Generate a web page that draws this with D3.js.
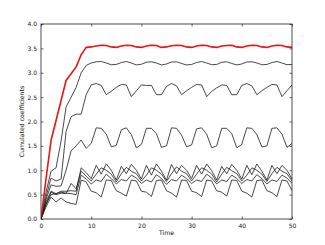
<!DOCTYPE html>
<html>
<head>
<meta charset="utf-8">
<script src="https://cdn.jsdelivr.net/npm/d3@7"></script>
<style>
  html, body { margin: 0; padding: 0; background: #fff; }
  #chart svg { display: block; }
  .axis path { display: none; }
  .axis line { stroke: #000; stroke-width: 0.6; }
  .axis text { font-family: 'DejaVu Sans', sans-serif; font-size: 6px; fill: #111; }
  .frame { fill: none; stroke: #222; stroke-width: 0.8; }
  .series { fill: none; stroke-linejoin: round; }
  .label { font-family: 'DejaVu Sans', sans-serif; font-size: 6.2px; fill: #111; }
</style>
</head>
<body>
<div id="chart"></div>
<script>
'use strict';

var time = [0, 1, 2, 3, 4, 5, 6, 7, 8, 9, 10, 11, 12, 13, 14, 15, 16, 17, 18, 19, 20,
  21, 22, 23, 24, 25, 26, 27, 28, 29, 30, 31, 32, 33, 34, 35, 36, 37, 38, 39, 40,
  41, 42, 43, 44, 45, 46, 47, 48, 49, 50];

// red total line
var total = [0, 0.82, 1.61, 2.02, 2.43, 2.84, 2.98, 3.12, 3.37, 3.52,
  3.53, 3.55, 3.565, 3.56, 3.53, 3.52, 3.55, 3.565, 3.56, 3.53,
  3.52, 3.55, 3.565, 3.56, 3.52, 3.53, 3.555, 3.565, 3.56, 3.53,
  3.52, 3.55, 3.565, 3.56, 3.53, 3.52, 3.55, 3.56, 3.565, 3.53,
  3.52, 3.55, 3.565, 3.56, 3.53, 3.52, 3.55, 3.565, 3.56, 3.53, 3.52];

var coefB = [0, 0.55, 0.98, 1.05, 1.6, 2.3, 2.5, 2.7, 3.0, 3.15,
  3.2, 3.225, 3.23, 3.2, 3.165, 3.17, 3.21, 3.23, 3.2, 3.16,
  3.175, 3.215, 3.225, 3.2, 3.16, 3.18, 3.22, 3.225, 3.19, 3.16,
  3.17, 3.21, 3.23, 3.2, 3.165, 3.17, 3.215, 3.225, 3.19, 3.16,
  3.18, 3.22, 3.225, 3.2, 3.165, 3.17, 3.21, 3.23, 3.2, 3.165, 3.17];

var coefC = [0, 0.45, 0.84, 0.78, 0.82, 1.8, 2.1, 2.15, 2.15, 2.55,
  2.75, 2.78, 2.74, 2.55, 2.62, 2.7, 2.76, 2.75, 2.51, 2.63,
  2.75, 2.74, 2.74, 2.55, 2.55, 2.72, 2.78, 2.73, 2.55, 2.63,
  2.7, 2.76, 2.75, 2.51, 2.62, 2.69, 2.75, 2.74, 2.55, 2.55,
  2.74, 2.78, 2.73, 2.55, 2.63, 2.7, 2.76, 2.75, 2.51, 2.63, 2.75];

var coefD = [0, 0.4, 0.7, 0.67, 0.68, 1.0, 1.4, 1.5, 1.62, 1.45,
  1.55, 1.87, 1.86, 1.74, 1.48, 1.51, 1.83, 1.87, 1.73, 1.46,
  1.53, 1.86, 1.86, 1.75, 1.47, 1.5, 1.87, 1.86, 1.72, 1.48,
  1.52, 1.85, 1.87, 1.74, 1.46, 1.5, 1.86, 1.86, 1.75, 1.46,
  1.53, 1.87, 1.86, 1.73, 1.48, 1.5, 1.86, 1.87, 1.74, 1.47, 1.55];

var coefE = [0, 0.35, 0.57, 0.52, 0.57, 0.57, 0.58, 0.57, 1.05, 0.95,
  0.83, 1.1, 0.92, 1.13, 1.0, 0.8, 1.08, 0.93, 1.12, 1.0,
  0.82, 1.1, 0.9, 1.13, 0.98, 0.8, 1.12, 0.93, 1.1, 1.0,
  0.83, 1.1, 0.92, 1.13, 0.99, 0.8, 1.08, 0.93, 1.12, 1.0,
  0.82, 1.1, 0.91, 1.13, 0.98, 0.8, 1.1, 0.93, 1.1, 1.0, 0.82];

var coefF = [0, 0.3, 0.55, 0.5, 0.53, 0.52, 0.73, 0.62, 0.98, 0.88,
  0.78, 0.92, 1.05, 1.0, 0.92, 0.76, 0.93, 1.06, 0.98, 0.93,
  0.78, 0.9, 1.05, 1.0, 0.92, 0.77, 0.93, 1.07, 0.98, 0.93,
  0.78, 0.92, 1.05, 1.0, 0.92, 0.76, 0.92, 1.06, 0.99, 0.93,
  0.78, 0.9, 1.05, 1.0, 0.92, 0.77, 0.93, 1.06, 0.98, 0.93, 0.78];

var coefG = [0, 0.3, 0.5, 0.52, 0.55, 0.53, 0.52, 0.5, 0.9, 0.82,
  0.72, 0.8, 0.77, 0.92, 0.83, 0.72, 0.81, 0.78, 0.9, 0.84,
  0.73, 0.8, 0.76, 0.91, 0.83, 0.71, 0.81, 0.78, 0.9, 0.83,
  0.73, 0.8, 0.77, 0.92, 0.84, 0.72, 0.8, 0.77, 0.9, 0.83,
  0.73, 0.81, 0.78, 0.91, 0.83, 0.72, 0.8, 0.77, 0.9, 0.84, 0.73];

var coefH = [0, 0.25, 0.45, 0.35, 0.43, 0.35, 0.32, 0.3, 0.8, 0.76,
  0.57, 0.54, 0.45, 0.8, 0.79, 0.58, 0.53, 0.47, 0.8, 0.78,
  0.57, 0.55, 0.46, 0.79, 0.8, 0.58, 0.53, 0.45, 0.8, 0.79,
  0.57, 0.54, 0.46, 0.8, 0.78, 0.58, 0.55, 0.47, 0.8, 0.79,
  0.57, 0.53, 0.45, 0.79, 0.8, 0.58, 0.54, 0.46, 0.8, 0.78, 0.58];

var xTicks = [0, 10, 20, 30, 40, 50];
var yTicks = [0, 0.5, 1.0, 1.5, 2.0, 2.5, 3.0, 3.5, 4.0];

var blackSeries = [coefB, coefC, coefD, coefE, coefF, coefG, coefH];

var margin = {top: 24, right: 33, bottom: 26, left: 41};
var width = 325 - margin.left - margin.right;
var height = 245 - margin.top - margin.bottom;

var xScale = d3.scaleLinear().domain([0, 50]).range([0, width]);
var yScale = d3.scaleLinear().domain([0, 4]).range([height, 0]);

var svg = d3.select('#chart')
  .append('svg')
  .attr('width', 325)
  .attr('height', 245)
  .append('g')
  .attr('transform', 'translate(' + margin.left + ',' + margin.top + ')');

var clip = svg.append('clipPath').attr('id', 'plot-clip')
  .append('rect').attr('width', width).attr('height', height);

var line = d3.line()
  .x(function(d, i) { return xScale(time[i]); })
  .y(function(d) { return yScale(d); });

var plot = svg.append('g').attr('clip-path', 'url(#plot-clip)');

blackSeries.forEach(function(s) {
  plot.append('path')
    .datum(s)
    .attr('class', 'series')
    .attr('stroke', '#1a1a1a')
    .attr('stroke-width', 0.8)
    .attr('d', line);
});

plot.append('path')
  .datum(total)
  .attr('class', 'series')
  .attr('stroke', '#e8140f')
  .attr('stroke-width', 1.6)
  .attr('d', line);

// axes, ticks pointing inward on all four sides
var fmt = d3.format('.1f');

svg.append('g')
  .attr('class', 'axis')
  .attr('transform', 'translate(0,' + height + ')')
  .call(d3.axisBottom(xScale).tickValues(xTicks).tickSize(-2.5).tickPadding(4.5).tickFormat(d3.format('d')));

svg.append('g')
  .attr('class', 'axis')
  .call(d3.axisTop(xScale).tickValues(xTicks).tickSize(-2.5).tickFormat(''));

svg.append('g')
  .attr('class', 'axis')
  .call(d3.axisLeft(yScale).tickValues(yTicks).tickSize(-2.5).tickPadding(4).tickFormat(fmt));

svg.append('g')
  .attr('class', 'axis')
  .attr('transform', 'translate(' + width + ',0)')
  .call(d3.axisRight(yScale).tickValues(yTicks).tickSize(-2.5).tickFormat(''));

svg.append('rect')
  .attr('class', 'frame')
  .attr('width', width)
  .attr('height', height);

svg.append('text')
  .attr('class', 'label')
  .attr('x', width / 2)
  .attr('y', height + 16)
  .attr('text-anchor', 'middle')
  .text('Time');

svg.append('text')
  .attr('class', 'label')
  .attr('transform', 'translate(-17,' + (height / 2) + ') rotate(-90)')
  .attr('text-anchor', 'middle')
  .text('Cumulated coefficients');
</script>
</body>
</html>
